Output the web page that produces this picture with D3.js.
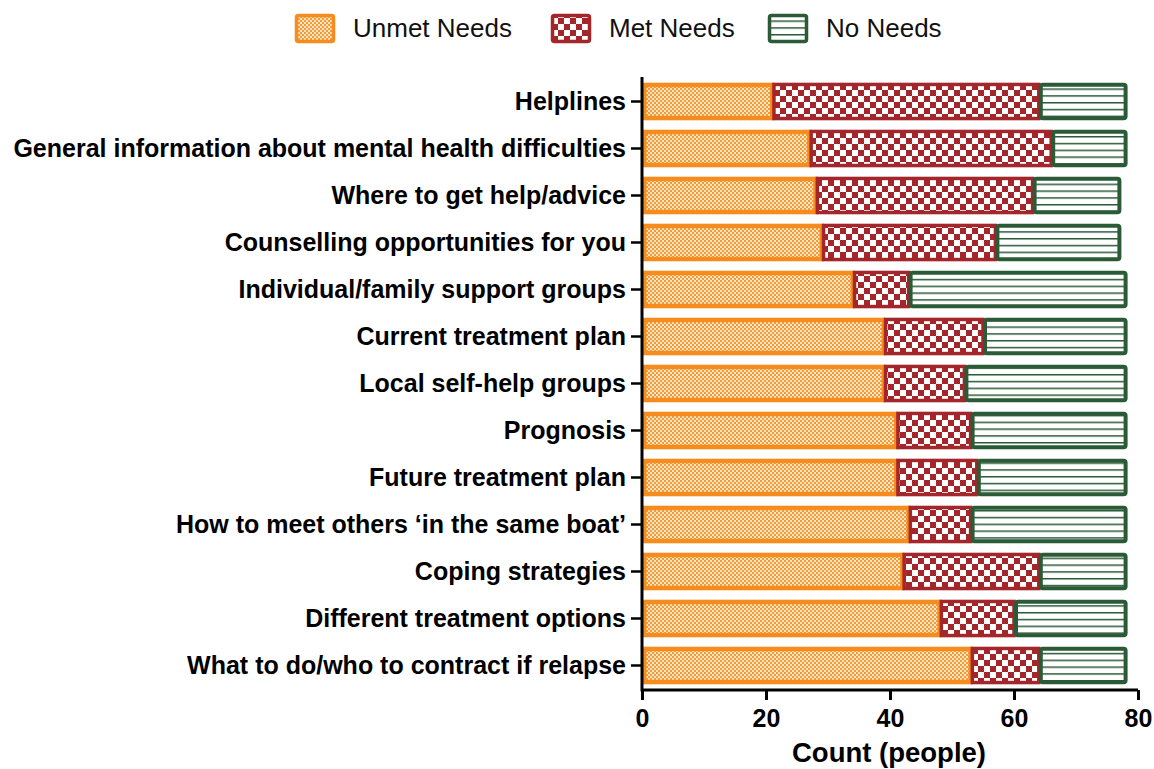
<!DOCTYPE html>
<html><head><meta charset="utf-8">
<script src="https://cdn.jsdelivr.net/npm/d3@7"></script>
<style>body{margin:0;background:#fff}svg{display:block}text{font-family:"Liberation Sans",Arial,sans-serif}</style>
</head><body>
<svg id="c" width="1154" height="769"></svg>
<script>
const categories = ["Helplines","General information about mental health difficulties","Where to get help/advice","Counselling opportunities for you","Individual/family support groups","Current treatment plan","Local self-help groups","Prognosis","Future treatment plan","How to meet others \u2018in the same boat\u2019","Coping strategies","Different treatment options","What to do/who to contract if relapse"];
const unmetNeeds = [21,27,28,29,34,39,39,41,41,43,42,48,53];
const metNeeds   = [43,39,35,28,9,16,13,12,13,10,22,12,11];
const noNeeds    = [14,12,14,20,35,23,26,25,24,25,14,18,14];
const seriesNames = ["Unmet Needs","Met Needs","No Needs"];
const xTicks = [0,20,40,60,80];

const svg = d3.select("#c");
const defs = svg.append("defs");
const p1 = defs.append("pattern").attr("id","pUnmet").attr("patternUnits","userSpaceOnUse").attr("width",4).attr("height",4);
p1.append("rect").attr("width",4).attr("height",4).attr("fill","#fde6bd");
p1.append("rect").attr("width",2).attr("height",2).attr("fill","#f29a3e");
p1.append("rect").attr("x",2).attr("y",2).attr("width",2).attr("height",2).attr("fill","#f29a3e");
const p2 = defs.append("pattern").attr("id","pMet").attr("patternUnits","userSpaceOnUse").attr("width",12).attr("height",12);
p2.append("rect").attr("width",12).attr("height",12).attr("fill","#ffffff");
p2.append("rect").attr("width",6).attr("height",6).attr("fill","#a3262b");
p2.append("rect").attr("x",6).attr("y",6).attr("width",6).attr("height",6).attr("fill","#a3262b");
const p3 = defs.append("pattern").attr("id","pNo").attr("patternUnits","userSpaceOnUse").attr("width",10).attr("height",6.8);
p3.append("rect").attr("width",10).attr("height",6.8).attr("fill","#ffffff");
p3.append("rect").attr("y",0).attr("width",10).attr("height",1.5).attr("fill","#2b5a37");

const fills = ["url(#pUnmet)","url(#pMet)","url(#pNo)"];
const strokes = ["#f68c1e","#a3262b","#2b5a37"];
const sws = [4.5,3.5,4];

const x = d3.scaleLinear().domain([0,80]).range([642,1138]);
const y = d3.scaleBand().domain(categories).range([78,689]).paddingInner(0.2).paddingOuter(0.1);

const rows = categories.map((c,i)=>({cat:c, vals:[unmetNeeds[i],metNeeds[i],noNeeds[i]]}));
rows.forEach(r=>{
  let acc = 0;
  r.vals.forEach((v,k)=>{
    const sw = sws[k];
    svg.append("rect")
      .attr("x", x(acc)+sw/2).attr("y", y(r.cat)+sw/2)
      .attr("width", x(acc+v)-x(acc)-sw/2).attr("height", y.bandwidth()-sw)
      .attr("rx", k===2?2:0)
      .attr("fill", fills[k]).attr("stroke", strokes[k]).attr("stroke-width", sw);
    acc += v;
  });
});

const gx = svg.append("g").attr("transform","translate(0,690)")
  .call(d3.axisBottom(x).tickValues(xTicks).tickSize(10).tickPadding(9).tickSizeOuter(0));
gx.select(".domain").attr("stroke","#000").attr("stroke-width",3).attr("d","M642,0H"+x(80));
gx.selectAll(".tick line").attr("stroke","#000").attr("stroke-width",3);
gx.selectAll(".tick text").attr("font-size",25).attr("font-weight","bold").attr("fill","#000");

const gy = svg.append("g").attr("transform","translate(642,0)")
  .call(d3.axisLeft(y).tickSize(11).tickPadding(5).tickSizeOuter(0));
gy.select(".domain").attr("stroke","#000").attr("stroke-width",3).attr("d","M0,77V691.5");
gy.selectAll(".tick line").attr("stroke","#000").attr("stroke-width",2.5);
gy.selectAll(".tick text").attr("font-size",25).attr("font-weight","bold").attr("fill","#000");

svg.append("text").attr("x",889).attr("y",762).attr("text-anchor","middle")
  .attr("font-size",27.5).attr("font-weight","bold").text("Count (people)");

const legX = [295,551,768];
seriesNames.forEach((n,k)=>{
  svg.append("rect").attr("x",legX[k]+1.5).attr("y",15.5).attr("width",37).attr("height",26)
    .attr("rx",2).attr("fill",fills[k]).attr("stroke",strokes[k]).attr("stroke-width",3.5);
  svg.append("text").attr("x",legX[k]+58).attr("y",37).attr("font-size",26).attr("fill","#111").text(n);
});
</script>
</body></html>
